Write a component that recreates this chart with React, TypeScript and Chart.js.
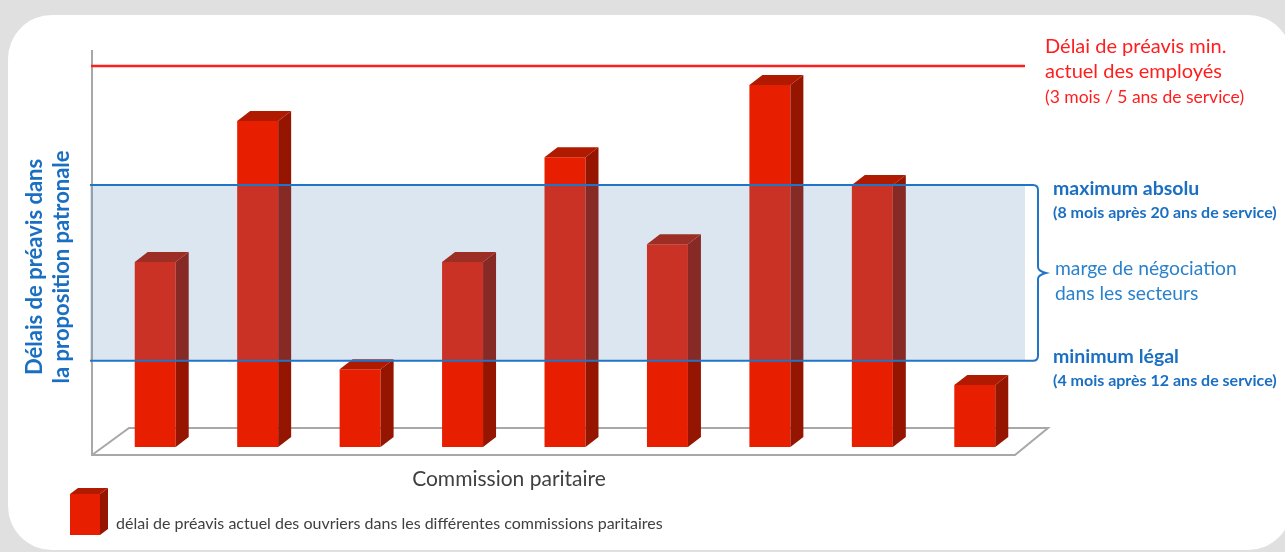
import React, { useEffect, useRef } from 'react';
import { Chart, registerables } from 'chart.js';

Chart.register(...registerables);

// ---------- data ----------
const commissions = ['CP 1', 'CP 2', 'CP 3', 'CP 4', 'CP 5', 'CP 6', 'CP 7', 'CP 8', 'CP 9'];
const currentNotice = [46.6, 82.1, 19.6, 46.6, 73.0, 51.1, 91.2, 66.0, 15.6];
const employeeMinLevel = 96;
const absoluteMaximumLevel = 66;
const legalMinimumLevel = 21.7;

const yAxisTitle = ['Délais de préavis dans', 'la proposition patronale'];
const xAxisTitle = 'Commission paritaire';
const legendLabel = 'délai de préavis actuel des ouvriers dans les différentes commissions paritaires';
const employeeNote = ['Délai de préavis min.', 'actuel des employés', '(3 mois / 5 ans de service)'];
const maxNote = ['maximum absolu', '(8 mois après 20 ans de service)'];
const marginNote = ['marge de négociation', 'dans les secteurs'];
const minNote = ['minimum légal', '(4 mois après 12 ans de service)'];

// ---------- style ----------
const FONT = 'Lato, "Open Sans", sans-serif';
const FRONT = '#e81e00';
const SIDE = '#951500';
const TOP = '#b01a00';
const BLUE = '#1f76c6';
const BLUE_TEXT = '#1b6fc2';
const RED = '#ff1e1e';
const GREY_LINE = '#a8a8a8';
const DX = 13;
const DY = 10;

function text(ctx: CanvasRenderingContext2D, s: string, x: number, y: number, font: string, color: string, align: CanvasTextAlign = 'left') {
  ctx.font = font;
  ctx.fillStyle = color;
  ctx.textAlign = align;
  ctx.textBaseline = 'middle';
  ctx.fillText(s, x, y);
}

const decor = {
  id: 'decor',
  beforeDraw(chart: any) {
    const ctx: CanvasRenderingContext2D = chart.ctx;
    ctx.save();
    ctx.fillStyle = '#e0e0e0';
    ctx.fillRect(0, 0, chart.width, chart.height);
    ctx.fillStyle = '#ffffff';
    ctx.beginPath();
    (ctx as any).roundRect(8, 15, 1284, 535, 44);
    ctx.fill();
    ctx.restore();
  },
  beforeDatasetsDraw(chart: any) {
    const ctx: CanvasRenderingContext2D = chart.ctx;
    const a = chart.chartArea;
    const base = chart.scales.y.getPixelForValue(0);
    const axisX = a.left - 12;
    const floorFront = base + 8;
    const floorBack = base - 19;
    const floorRight = a.right - 11;
    ctx.save();
    ctx.strokeStyle = GREY_LINE;
    ctx.lineWidth = 2;
    ctx.beginPath();
    ctx.moveTo(axisX, a.top);
    ctx.lineTo(axisX, floorFront);
    ctx.lineTo(floorRight, floorFront);
    ctx.lineTo(floorRight + 33, floorBack);
    ctx.lineTo(axisX + 37, floorBack);
    ctx.lineTo(axisX, floorFront);
    ctx.stroke();
    ctx.restore();
  },
  afterDatasetsDraw(chart: any) {
    const ctx: CanvasRenderingContext2D = chart.ctx;
    const a = chart.chartArea;
    const ys = chart.scales.y;
    const meta = chart.getDatasetMeta(0);
    ctx.save();
    // 3D faces
    meta.data.forEach((el: any) => {
      const l = el.x - el.width / 2;
      const r = el.x + el.width / 2;
      ctx.fillStyle = SIDE;
      ctx.beginPath();
      ctx.moveTo(r, el.y);
      ctx.lineTo(r + DX, el.y - DY);
      ctx.lineTo(r + DX, el.base - DY);
      ctx.lineTo(r, el.base);
      ctx.closePath();
      ctx.fill();
      ctx.fillStyle = TOP;
      ctx.beginPath();
      ctx.moveTo(l, el.y);
      ctx.lineTo(l + DX, el.y - DY);
      ctx.lineTo(r + DX, el.y - DY);
      ctx.lineTo(r, el.y);
      ctx.closePath();
      ctx.fill();
    });

    const axisX = a.left - 12;
    const lineEnd = a.right - 1;
    // negotiation band
    const yTop = ys.getPixelForValue(absoluteMaximumLevel);
    const yBot = ys.getPixelForValue(legalMinimumLevel);
    ctx.fillStyle = 'rgba(80,130,185,0.2)';
    ctx.fillRect(axisX - 2, yTop, lineEnd - axisX + 2, yBot - yTop);
    ctx.strokeStyle = BLUE;
    ctx.lineWidth = 2;
    ctx.beginPath();
    ctx.moveTo(axisX - 2, yTop);
    ctx.lineTo(lineEnd + 8, yTop);
    ctx.quadraticCurveTo(lineEnd + 13, yTop, lineEnd + 13, yTop + 5);
    const mid = (yTop + yBot) / 2;
    ctx.lineTo(lineEnd + 13, mid - 6);
    ctx.quadraticCurveTo(lineEnd + 13, mid - 2, lineEnd + 21, mid);
    ctx.quadraticCurveTo(lineEnd + 13, mid + 2, lineEnd + 13, mid + 6);
    ctx.lineTo(lineEnd + 13, yBot - 5);
    ctx.quadraticCurveTo(lineEnd + 13, yBot, lineEnd + 8, yBot);
    ctx.lineTo(axisX - 2, yBot);
    ctx.stroke();

    // employees line
    const yRed = ys.getPixelForValue(employeeMinLevel);
    ctx.strokeStyle = RED;
    ctx.lineWidth = 2.5;
    ctx.beginPath();
    ctx.moveTo(axisX - 1, yRed);
    ctx.lineTo(lineEnd, yRed);
    ctx.stroke();

    // right annotations
    const tx = lineEnd + 20;
    text(ctx, employeeNote[0], tx, yRed - 19, `20px ${FONT}`, RED);
    text(ctx, employeeNote[1], tx, yRed + 6, `20px ${FONT}`, RED);
    text(ctx, employeeNote[2], tx, yRed + 31, `17.5px ${FONT}`, RED);

    text(ctx, maxNote[0], tx + 8, yTop + 4, `bold 19.5px ${FONT}`, BLUE_TEXT);
    text(ctx, maxNote[1], tx + 8, yTop + 28, `bold 16px ${FONT}`, BLUE_TEXT);
    text(ctx, marginNote[0], tx + 10, mid - 4, `19.3px ${FONT}`, '#2a82cc');
    text(ctx, marginNote[1], tx + 10, mid + 21, `19.3px ${FONT}`, '#2a82cc');
    text(ctx, minNote[0], tx + 8, yBot - 4, `bold 19.5px ${FONT}`, BLUE_TEXT);
    text(ctx, minNote[1], tx + 8, yBot + 20, `bold 16px ${FONT}`, BLUE_TEXT);

    // y-axis title
    ctx.save();
    ctx.translate(0, (yTop + yBot) / 2 - 6);
    ctx.rotate(-Math.PI / 2);
    text(ctx, yAxisTitle[0], 0, 35, `bold 22px ${FONT}`, BLUE_TEXT, 'center');
    text(ctx, yAxisTitle[1], 0, 62, `bold 22px ${FONT}`, BLUE_TEXT, 'center');
    ctx.restore();

    // x-axis title
    text(ctx, xAxisTitle, 509, a.bottom + 32, `21px ${FONT}`, '#404040', 'center');

    // legend
    const lx = 70, ly = 494, lw = 30, lh = 41;
    ctx.fillStyle = FRONT;
    ctx.fillRect(lx, ly, lw, lh);
    ctx.fillStyle = SIDE;
    ctx.beginPath();
    ctx.moveTo(lx + lw, ly);
    ctx.lineTo(lx + lw + 8, ly - 6);
    ctx.lineTo(lx + lw + 8, ly + lh - 6);
    ctx.lineTo(lx + lw, ly + lh);
    ctx.closePath();
    ctx.fill();
    ctx.fillStyle = TOP;
    ctx.beginPath();
    ctx.moveTo(lx, ly);
    ctx.lineTo(lx + 8, ly - 6);
    ctx.lineTo(lx + lw + 8, ly - 6);
    ctx.lineTo(lx + lw, ly);
    ctx.closePath();
    ctx.fill();
    text(ctx, legendLabel, 116, 524, `16px ${FONT}`, '#404040');
    ctx.restore();
  },
};

export default function App() {
  const ref = useRef<HTMLCanvasElement>(null);
  useEffect(() => {
    if (!ref.current) return;
    const chart = new Chart(ref.current, {
      type: 'bar',
      data: {
        labels: commissions,
        datasets: [
          {
            label: legendLabel,
            data: currentNotice,
            backgroundColor: FRONT,
            borderWidth: 0,
            barPercentage: 0.4,
            categoryPercentage: 1,
          },
        ],
      },
      options: {
        responsive: false,
        animation: false,
        devicePixelRatio: 1,
        layout: { padding: { left: 104, right: 259, top: 50, bottom: 105 } },
        plugins: { legend: { display: false }, tooltip: { enabled: false } },
        scales: {
          x: { display: false },
          y: { display: false, min: 0, max: 100 },
        },
      },
      plugins: [decor],
    });
    return () => chart.destroy();
  }, []);
  return (
    <div style={{ position: 'fixed', left: 0, top: 0, width: 1285, height: 552 }}>
      <canvas ref={ref} width={1285} height={552} style={{ display: 'block' }} />
    </div>
  );
}
